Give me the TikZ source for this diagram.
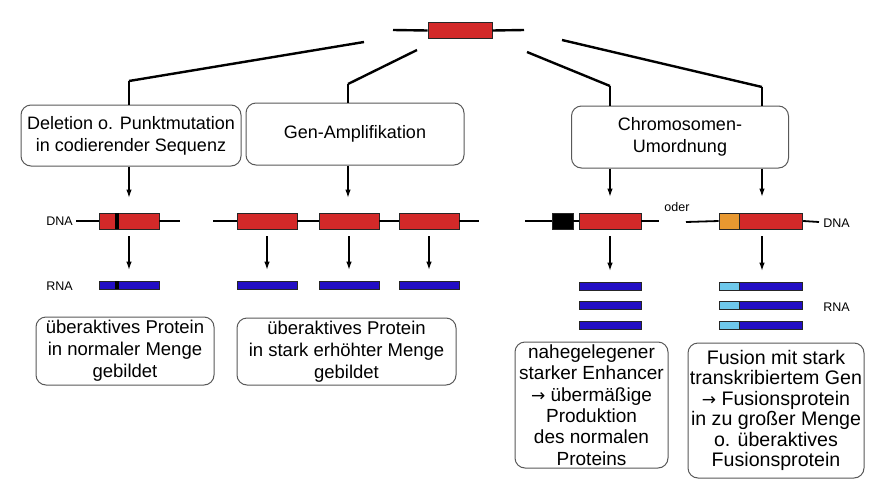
\documentclass[tikz,border=0pt]{standalone}
\usepackage{fontspec}
\setmainfont{Liberation Sans}
\newfontfamily\arrowfont{DejaVu Sans}
\usepackage{tikz}
\usetikzlibrary{positioning}
\usetikzlibrary{arrows.meta}

\definecolor{genered}{RGB}{211,41,41}
\definecolor{rnablue}{RGB}{34,14,196}
\definecolor{fusorange}{RGB}{232,152,48}
\definecolor{fusblue}{RGB}{110,200,235}

\newcommand{\ra}{{\arrowfont\fontsize{17}{17}\selectfont →}}

\tikzset{
	gene/.style={draw=black!85, line width=0.8pt, fill=genered, minimum height=16pt, inner sep=0pt},
	rna/.style={draw=black!85, line width=0.7pt, fill=rnablue, minimum height=8pt, inner sep=0pt},
	tbox/.style={draw=black!65, line width=1pt, rounded corners=10pt, align=center, inner sep=0pt},
	lab/.style={inner sep=0pt, font=\fontsize{12.5}{14}\selectfont},
	dnaline/.style={line width=1.8pt},
	branch/.style={line width=2.4pt},
	stem/.style={line width=1.2pt},
	arr/.style={line width=1.1pt, -{Latex[length=8pt,width=5.5pt]}}
}

\begin{document}
\begin{tikzpicture}[x=1pt,y=-1pt]
	\fill[white] (0,0) rectangle (873,493);
	\useasboundingbox (0,0) rectangle (873,493);

	% gene on top
	\coordinate (tl) at (393,30);
	\coordinate (tr) at (524,30);
	\node[gene, minimum width=64pt] (top) at (460,30.5) {};
	\draw[line width=2.4pt] (tl) -- (top.west);
	\draw[line width=2.4pt] (top.east) -- (tr);

	% upper boxes
	\node[tbox, minimum width=220pt, minimum height=61pt, font=\fontsize{18}{22}\selectfont] (del) at (131,135.5) {Deletion o. Punktmutation\\in codierender Sequenz};
	\node[tbox, minimum width=218pt, minimum height=62pt, font=\fontsize{18}{22}\selectfont] (amp) at (355,134) {Gen-Amplifikation};
	\node[tbox, minimum width=217pt, minimum height=62pt, font=\fontsize{18}{22}\selectfont] (chr) at (680,137) {Chromosomen-\\Umordnung};

	% branches
	\coordinate (s1) at (364,42);
	\coordinate (k1) at (129,81);
	\coordinate (s2) at (417,50);
	\coordinate (k2) at (348,84);
	\coordinate (s3) at (527,52);
	\coordinate (k3) at (610,86);
	\coordinate (s4) at (562,40);
	\coordinate (k4) at (762,87);
	\draw[branch] (s1) -- (k1);
	\draw[branch] (s2) -- (k2);
	\draw[branch] (s3) -- (k3);
	\draw[branch] (s4) -- (k4);
	\draw[stem] (k1) -- (k1 |- del.north);
	\draw[stem] (k2) -- (k2 |- amp.north);
	\draw[stem] (k3) -- (k3 |- chr.north);
	\draw[stem] (k4) -- (k4 |- chr.north);

	% point mutation
	\node[lab] (dna1) at (59.5,221) {DNA};
	\node[lab] (rna1) at (59.5,286) {RNA};
	\coordinate (dl1) at (76,221);
	\coordinate (dr1) at (180,221);
	\node[gene, minimum width=60pt] (g1) at (129,221) {};
	\node[fill=black, minimum width=4pt, minimum height=16pt, inner sep=0pt] (pm1) at (117,221) {};
	\draw[dnaline] (dl1) -- (g1.west);
	\draw[dnaline] (g1.east) -- (dr1);
	\node[rna, minimum width=60pt] (r1) at (129,285) {};
	\node[fill=black, minimum width=4pt, minimum height=8pt, inner sep=0pt] (pm2) at (117,285) {};

	% amplification
	\coordinate (dl2) at (213,221);
	\coordinate (dr2) at (479,221);
	\node[gene, minimum width=60pt] (a1) at (267,221) {};
	\node[gene, minimum width=60pt] (a2) at (349,221) {};
	\node[gene, minimum width=60pt] (a3) at (429,221) {};
	\draw[dnaline] (dl2) -- (a1.west);
	\draw[dnaline] (a1.east) -- (a2.west);
	\draw[dnaline] (a2.east) -- (a3.west);
	\draw[dnaline] (a3.east) -- (dr2);
	\node[rna, minimum width=60pt] (b1) at (267,285) {};
	\node[rna, minimum width=60pt] (b2) at (349,285) {};
	\node[rna, minimum width=60pt] (b3) at (429,285) {};

	% enhancer
	\coordinate (dl3) at (525,221);
	\coordinate (dr3) at (659,221);
	\node[gene, fill=black, minimum width=21pt] (enh) at (562.5,221) {};
	\node[gene, minimum width=62pt] (e1) at (610,221) {};
	\draw[dnaline] (dl3) -- (enh.west);
	\draw[dnaline] (enh.east) -- (e1.west);
	\draw[dnaline] (e1.east) -- (dr3);
	\node[rna, minimum width=62pt] (q1) at (610,286) {};
	\node[rna, minimum width=62pt] (q2) at (610,305.5) {};
	\node[rna, minimum width=62pt] (q3) at (610,325) {};

	\node[lab] (oder) at (677,207) {oder};

	% fusion
	\coordinate (dl4) at (686,222);
	\coordinate (dr4) at (819,222);
	\node[gene, fill=fusorange, minimum width=20pt] (f0) at (729,221) {};
	\node[gene, minimum width=63pt, right=0pt of f0] (f1) {};
	\draw[dnaline] (dl4) -- (f0.west);
	\draw[dnaline] (f1.east) -- (dr4);
	\node[lab] (dna2) at (836.5,223) {DNA};
	\foreach \y/\n in {286/m1,305.5/m2,325/m3}{
		\node[rna, minimum width=83pt] (\n) at (760.5,\y) {};
		\node[rna, fill=fusblue, minimum width=20pt] at (729,\y) {};
	}
	\node[lab] (rna2) at (836.5,307) {RNA};

	% arrows
	\draw[arr, shorten >=15pt] (del.south -| k1) -- (k1 |- g1.north);
	\draw[arr, shorten >=15pt] (amp.south -| k2) -- (k2 |- a2.north);
	\draw[arr, shorten >=16pt] (chr.south -| k3) -- (k3 |- e1.north);
	\draw[arr, shorten >=16pt] (chr.south -| k4) -- (k4 |- f1.north);
	\draw[arr, shorten <=7pt, shorten >=11pt] (g1) -- (r1);
	\draw[arr, shorten <=7pt, shorten >=11pt] (a1) -- (b1);
	\draw[arr, shorten <=7pt, shorten >=11pt] (a2) -- (b2);
	\draw[arr, shorten <=7pt, shorten >=11pt] (a3) -- (b3);
	\draw[arr, shorten <=7pt, shorten >=11pt] (e1) -- (q1);
	\draw[arr, shorten <=7pt, shorten >=11pt] (f1.south -| k4) -- (m1.north -| k4);

	% results
	\node[tbox, minimum width=178pt, minimum height=68pt, font=\fontsize{18.5}{22}\selectfont] (res1) at (125,351) {überaktives Protein\\in normaler Menge\\gebildet};
	\node[tbox, minimum width=219pt, minimum height=67pt, font=\fontsize{18.5}{22}\selectfont] (res2) at (346.5,351.5) {überaktives Protein\\in stark erhöhter Menge\\gebildet};
	\node[tbox, minimum width=153pt, minimum height=126pt, font=\fontsize{19}{21.3}\selectfont] (res3) at (591.5,405) {nahegelegener\\starker Enhancer\\\ra{} übermäßige\\Produktion\\des normalen\\Proteins};
	\node[tbox, minimum width=176pt, minimum height=135pt, font=\fontsize{19.6}{20.5}\selectfont] (res4) at (776,410.5) {Fusion mit stark\\transkribiertem Gen\\\ra{} Fusionsprotein\\in zu großer Menge\\o. überaktives\\Fusionsprotein};
\end{tikzpicture}
\end{document}
